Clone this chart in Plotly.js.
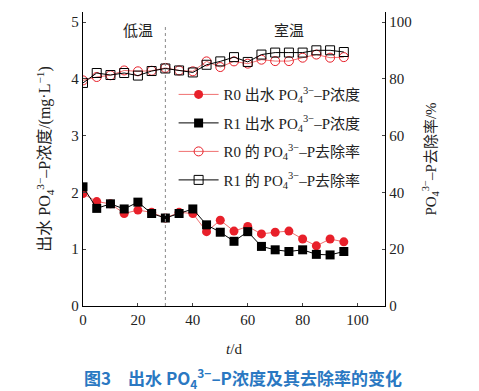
<!DOCTYPE html>
<html>
<head>
<meta charset="utf-8">
<script src="https://cdn.plot.ly/plotly-3.0.1.min.js"></script>
<style>html,body{margin:0;padding:0;background:#fff;}#chart{width:479px;height:391px;}</style>
</head>
<body>
<div id="chart"></div>
<script>
var days = [0,5,10,15,20,25,30,35,40,45,50,55,60,65,70,75,80,85,90,95];
var r0Conc = [1.98,1.84,1.80,1.63,1.69,1.65,1.55,1.65,1.63,1.31,1.51,1.32,1.40,1.27,1.30,1.32,1.18,1.06,1.18,1.13];
var r1Conc = [2.10,1.72,1.80,1.71,1.83,1.63,1.55,1.63,1.71,1.43,1.30,1.14,1.31,1.05,0.99,0.96,0.99,0.91,0.90,0.96];
var r0Rate = [79.5,80.7,81.3,83.0,82.7,82.9,83.9,83.0,82.7,86.2,84.2,86.2,85.4,86.8,86.3,86.3,87.5,88.6,87.5,87.7];
var r1Rate = [78.6,82.1,81.4,82.1,81.2,82.8,83.7,83.0,82.3,85.0,86.2,87.7,86.0,88.6,89.3,89.3,89.3,90.1,90.1,89.5];
var seriesNames = [
  "R0 出水 PO<sub>4</sub><sup>3−</sup>–P浓度",
  "R1 出水 PO<sub>4</sub><sup>3−</sup>–P浓度",
  "R0 的 PO<sub>4</sub><sup>3−</sup>–P去除率",
  "R1 的 PO<sub>4</sub><sup>3−</sup>–P去除率"
];
var phaseLabels = ["低温", "室温"];
var phaseSplit = 30;

var serif = "'Liberation Serif', 'Times New Roman', 'Noto Sans CJK SC', serif";
var red = "#e8202a";

var traces = [
  {x: days, y: r0Conc, name: seriesNames[0], mode: "lines+markers", legendgroup: "a",
   line: {color: "#f07070", width: 1}, marker: {symbol: "circle", size: 9, color: red}},
  {x: days, y: r1Conc, name: seriesNames[1], mode: "lines+markers", legendgroup: "b",
   line: {color: "#000", width: 1}, marker: {symbol: "square", size: 9, color: "#000"}},
  {x: days, y: r0Rate, name: seriesNames[2], mode: "lines+markers", yaxis: "y2", legendgroup: "c",
   line: {color: "#f07070", width: 1}, marker: {symbol: "circle-open", size: 9, color: red, line: {width: 1}}},
  {x: days, y: r1Rate, name: seriesNames[3], mode: "lines+markers", yaxis: "y2", legendgroup: "d",
   line: {color: "#000", width: 1}, marker: {symbol: "square-open", size: 9, color: "#000", line: {width: 1}}}
];

var layout = {
  width: 479, height: 391,
  margin: {l: 83, r: 94, t: 12, b: 85},
  paper_bgcolor: "#fff", plot_bgcolor: "#fff",
  font: {family: serif, size: 15, color: "#222"},
  showlegend: true,
  legend: {x: 0.30, y: 0.775, xanchor: "left", yanchor: "top", bgcolor: "rgba(0,0,0,0)",
           font: {family: serif, size: 15, color: "#222"}, tracegroupgap: 6, itemwidth: 40},
  xaxis: {range: [0, 110], tickvals: [0,20,40,60,80,100], ticks: "inside", ticklen: 3,
          showline: true, linecolor: "#000", linewidth: 1.2, showgrid: false, zeroline: false,
          tickfont: {family: serif, size: 15, color: "#222"},
          title: {text: "<i>t</i>/d", font: {family: serif, size: 15, color: "#222"}, standoff: 16}},
  yaxis: {range: [0, 5.18], tickvals: [0,1,2,3,4,5], ticks: "inside", ticklen: 3,
          showline: true, linecolor: "#000", linewidth: 1.2, showgrid: false, zeroline: false,
          tickfont: {family: serif, size: 15, color: "#222"},
          title: {text: "出水 PO<sub>4</sub><sup>3−</sup>–P浓度/(mg·L<sup>−1</sup>)", font: {family: serif, size: 16, color: "#222"}, standoff: 16}},
  yaxis2: {range: [0, 103.6], tickvals: [0,20,40,60,80,100], overlaying: "y", side: "right",
           ticks: "inside", ticklen: 3, showline: true, linecolor: "#000", linewidth: 1.2,
           showgrid: false, zeroline: false,
           tickfont: {family: serif, size: 15, color: "#222"},
           title: {text: "PO<sub>4</sub><sup>3−</sup>–P去除率/%", font: {family: serif, size: 15, color: "#222"}, standoff: 14}},
  shapes: [
    {type: "line", xref: "x", yref: "y", x0: phaseSplit, x1: phaseSplit, y0: 0, y1: 4.95,
     line: {color: "#888", width: 1, dash: "dot"}}
  ],
  annotations: [
    {xref: "x", yref: "y", x: 20, y: 4.85, text: phaseLabels[0], showarrow: false,
     font: {family: serif, size: 15, color: "#222"}},
    {xref: "x", yref: "y", x: 75, y: 4.85, text: phaseLabels[1], showarrow: false,
     font: {family: serif, size: 15, color: "#222"}},
    {xref: "paper", yref: "paper", x: 0.53, y: -0.245, yanchor: "middle", xanchor: "center",
     text: "<b>图3　出水 PO<sub>4</sub><sup>3−</sup>–P浓度及其去除率的变化</b>", showarrow: false,
     font: {family: "'Noto Sans CJK SC', sans-serif", size: 17, color: "#2a78c2"}}
  ]
};

Plotly.newPlot("chart", traces, layout, {displayModeBar: false, staticPlot: true});
</script>
</body>
</html>
